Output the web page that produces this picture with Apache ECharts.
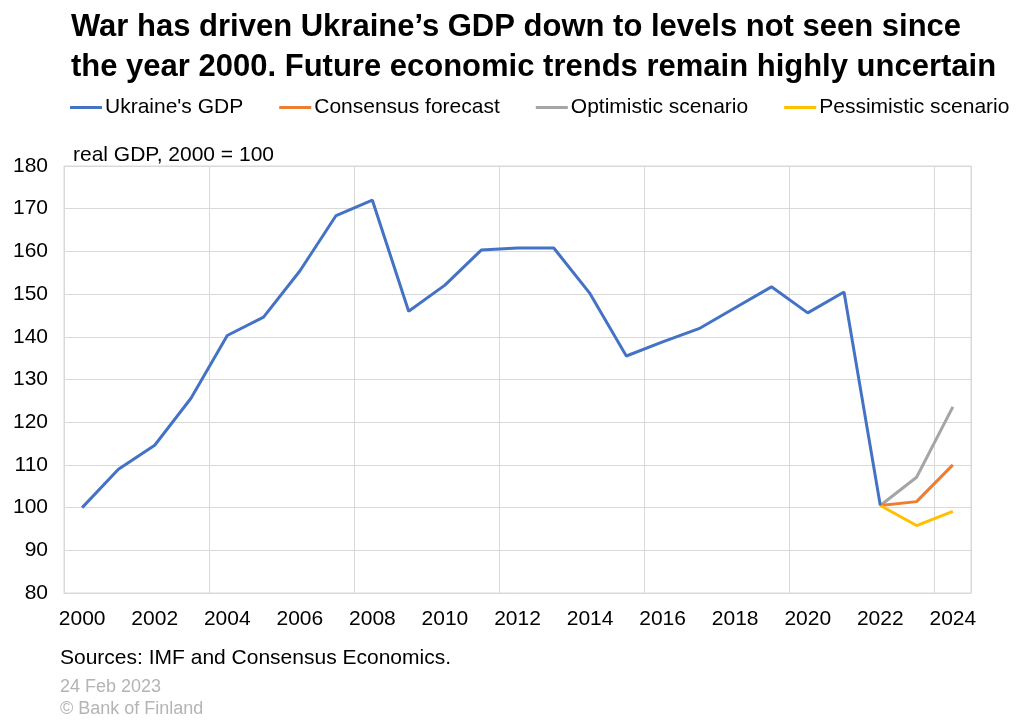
<!DOCTYPE html>
<html><head><meta charset="utf-8">
<script src="https://cdn.jsdelivr.net/npm/echarts@6/dist/echarts.min.js"></script>
<style>html,body{margin:0;padding:0;background:#fff}#c{width:1018px;height:720px}</style>
</head><body><div id="c"></div>
<script>
const years = ['2000','2001','2002','2003','2004','2005','2006','2007','2008','2009','2010','2011','2012','2013','2014','2015','2016','2017','2018','2019','2020','2021','2022','2023','2024'];
const gdp = [100,109,114.6,125.6,140.3,144.6,155.4,168.4,172,146,152.1,160.3,160.8,160.8,150.1,135.5,138.8,141.9,146.8,151.7,145.6,150.5,100.5,null,null];
const consensus = [null,null,null,null,null,null,null,null,null,null,null,null,null,null,null,null,null,null,null,null,null,null,100.5,101.4,110.0];
const optimistic = [null,null,null,null,null,null,null,null,null,null,null,null,null,null,null,null,null,null,null,null,null,null,100.5,107.1,123.6];
const pessimistic = [null,null,null,null,null,null,null,null,null,null,null,null,null,null,null,null,null,null,null,null,null,null,100.5,95.8,99.1];
const F = 'Liberation Sans, Arial, sans-serif';
const chart = echarts.init(document.getElementById('c'));
function line(name, data, color, z){
  return {name, type:'line', data, symbol:'none', z, lineStyle:{color, width:3}, itemStyle:{color}, connectNulls:false, animation:false};
}
chart.setOption({
  animation:false,
  title:[
    {text:'War has driven Ukraine\u2019s GDP down to levels not seen since\nthe year 2000. Future economic trends remain highly uncertain', left:66, top:2,
     textStyle:{fontFamily:F, fontSize:31, fontWeight:'bold', color:'#000', lineHeight:40}},
    {text:'real GDP, 2000 = 100', left:68, top:140, textStyle:{fontFamily:F, fontSize:21, fontWeight:'normal', color:'#000'}},
    {text:'Sources: IMF and Consensus Economics.', left:55, top:643, textStyle:{fontFamily:F, fontSize:21, fontWeight:'normal', color:'#000'}},
    {text:'24 Feb 2023\n\u00A9 Bank of Finland', left:55, top:671, textStyle:{fontFamily:F, fontSize:18, fontWeight:'normal', color:'#b4b4b4', lineHeight:22}}
  ],
  legend:{left:65, top:92, width:990, icon:'rect', itemWidth:32, itemHeight:3, itemGap:36,
    textStyle:{fontFamily:F, fontSize:21, color:'#000', padding:[0,0,0,-2]},
    data:["Ukraine's GDP",'Consensus forecast','Optimistic scenario','Pessimistic scenario']},
  grid:{left:64, right:47, top:166, bottom:127, show:true, borderColor:'#d9d9d9', borderWidth:1, backgroundColor:'transparent'},
  xAxis:{type:'category', data:years, boundaryGap:true,
    axisLine:{lineStyle:{color:'#d9d9d9'}}, axisTick:{show:false},
    axisLabel:{interval:1, fontFamily:F, fontSize:21, color:'#000', margin:16},
    splitLine:{show:true, interval:3, lineStyle:{color:'#d9d9d9', width:1}}},
  yAxis:{type:'value', min:80, max:180, interval:10,
    axisLine:{show:false}, axisTick:{show:false},
    axisLabel:{fontFamily:F, fontSize:21, color:'#000', margin:16},
    splitLine:{lineStyle:{color:'#d9d9d9', width:1}}},
  series:[
    line("Ukraine's GDP", gdp, '#4472C4', 5),
    line('Consensus forecast', consensus, '#ED7D31', 3),
    line('Optimistic scenario', optimistic, '#A5A5A5', 2),
    line('Pessimistic scenario', pessimistic, '#FFC000', 4)
  ]
});
</script></body></html>
